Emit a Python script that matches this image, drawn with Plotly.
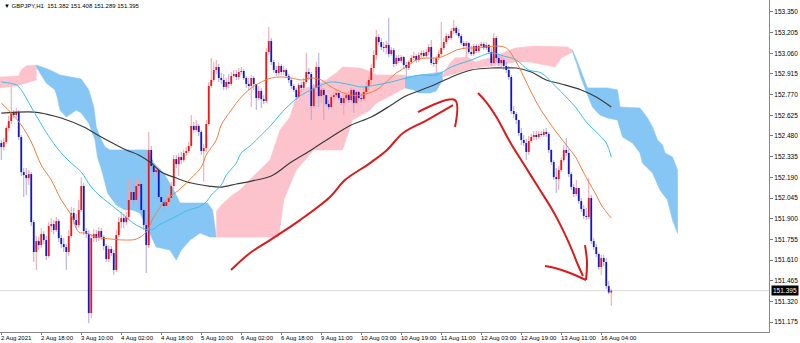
import plotly.graph_objects as go

# ---------------- data (GBPJPY H1) ----------------
first_open = 152.431
close = [
152.403, 152.438, 152.536, 152.585, 152.641, 152.627, 152.648, 152.473, 152.227, 152.206,
152.185, 152.213, 151.876, 151.666, 151.743, 151.715, 151.792, 151.750, 151.638, 151.848,
151.862, 151.820, 151.883, 151.764, 151.722, 151.701, 151.666, 151.778, 151.940, 151.890,
151.855, 151.961, 152.129, 151.813, 151.792, 151.238, 151.764, 151.792, 151.764, 151.813,
151.771, 151.708, 151.617, 151.687, 151.659, 151.540, 151.785, 151.876, 151.904, 151.876,
151.912, 152.031, 152.087, 152.031, 152.129, 152.143, 151.961, 151.855, 151.715, 152.382,
152.269, 152.227, 152.241, 152.052, 152.017, 151.989, 152.017, 152.045, 152.129, 152.318,
152.283, 152.332, 152.311, 152.361, 152.375, 152.410, 152.550, 152.522, 152.550, 152.508,
152.375, 152.396, 152.564, 152.831, 152.873, 152.943, 152.964, 152.887, 152.873, 152.824,
152.859, 152.845, 152.901, 152.915, 152.894, 152.929, 152.936, 152.887, 152.845, 152.831,
152.887, 152.845, 152.746, 152.796, 152.739, 152.725, 153.069, 153.146, 152.999, 152.943,
152.922, 152.971, 152.929, 152.943, 152.901, 152.873, 152.831, 152.803, 152.753, 152.838,
152.817, 152.859, 152.929, 152.915, 152.690, 152.817, 152.964, 152.760, 152.803, 152.767,
152.704, 152.683, 152.753, 152.767, 152.782, 152.746, 152.711, 152.746, 152.767, 152.732,
152.803, 152.711, 152.789, 152.746, 152.739, 152.789, 152.831, 152.873, 152.957, 153.048,
153.174, 153.139, 153.104, 153.097, 153.118, 153.055, 153.083, 152.985, 153.027, 153.006,
153.034, 152.978, 152.957, 152.999, 153.027, 153.041, 153.013, 153.048, 153.062, 153.041,
153.069, 153.104, 152.992, 152.985, 153.027, 153.055, 153.097, 153.139, 153.181, 153.167,
153.217, 153.238, 153.202, 153.181, 153.132, 153.111, 153.132, 153.069, 153.055, 153.111,
153.076, 153.111, 153.125, 153.097, 153.118, 153.069, 152.992, 153.167, 153.027, 152.992,
153.013, 152.971, 152.943, 152.894, 152.655, 152.634, 152.592, 152.501, 152.452, 152.431,
152.368, 152.445, 152.473, 152.487, 152.473, 152.494, 152.487, 152.508, 152.494, 152.382,
152.297, 152.192, 152.178, 152.241, 152.311, 152.382, 152.361, 152.213, 152.122, 152.073,
152.115, 152.024, 151.968, 151.919, 151.912, 152.045, 151.743, 151.701, 151.652, 151.561,
151.624, 151.596, 151.427, 151.382, 151.395]
high = [
152.452, 152.466, 152.550, 152.620, 152.824, 152.662, 152.676, 152.662, 152.487, 152.255,
152.255, 152.241, 152.227, 151.890, 151.778, 151.771, 151.834, 151.813, 151.778, 151.876,
151.904, 151.890, 151.912, 151.897, 151.785, 151.764, 151.722, 151.820, 151.982, 151.975,
151.933, 152.031, 152.192, 152.150, 151.834, 151.820, 151.792, 151.827, 151.820, 151.841,
151.834, 151.785, 151.722, 151.715, 151.708, 151.680, 151.820, 151.912, 151.947, 151.933,
151.947, 152.171, 152.185, 152.150, 152.185, 152.171, 152.157, 151.975, 151.876, 152.508,
152.410, 152.290, 152.269, 152.255, 152.066, 152.031, 152.045, 152.073, 152.157, 152.347,
152.347, 152.361, 152.368, 152.382, 152.403, 152.438, 152.627, 152.578, 152.592, 152.564,
152.522, 152.424, 152.592, 152.859, 153.027, 152.999, 153.013, 152.985, 152.922, 152.915,
152.887, 152.915, 152.929, 152.943, 152.943, 152.957, 152.964, 152.950, 152.901, 152.887,
152.908, 152.901, 152.845, 152.831, 152.817, 152.767, 153.097, 153.245, 153.167, 153.013,
152.971, 152.999, 152.985, 152.971, 152.957, 152.915, 152.887, 152.845, 152.817, 152.852,
152.859, 152.887, 153.062, 152.957, 152.929, 152.845, 152.999, 153.062, 152.831, 152.817,
152.760, 152.732, 152.767, 152.789, 152.810, 152.789, 152.760, 152.774, 152.789, 152.796,
152.817, 152.810, 152.803, 152.796, 152.782, 152.817, 152.859, 152.901, 152.985, 153.083,
153.224, 153.195, 153.167, 153.139, 153.146, 153.308, 153.104, 153.097, 153.048, 153.048,
153.048, 153.041, 152.999, 153.013, 153.048, 153.069, 153.055, 153.069, 153.083, 153.083,
153.090, 153.125, 153.153, 153.027, 153.041, 153.083, 153.280, 153.167, 153.202, 153.195,
153.238, 153.294, 153.252, 153.231, 153.195, 153.146, 153.146, 153.139, 153.111, 153.125,
153.125, 153.125, 153.139, 153.139, 153.139, 153.125, 153.097, 153.202, 153.181, 153.055,
153.041, 153.027, 152.999, 152.971, 152.908, 152.690, 152.648, 152.592, 152.536, 152.487,
152.459, 152.480, 152.494, 152.515, 152.515, 152.515, 152.515, 152.529, 152.536, 152.508,
152.389, 152.311, 152.255, 152.269, 152.332, 152.417, 152.466, 152.389, 152.227, 152.143,
152.171, 152.115, 152.045, 151.996, 151.975, 152.185, 152.066, 151.764, 151.722, 151.659,
151.645, 151.645, 151.624, 151.463, 151.408]
low = [
152.311, 152.382, 152.424, 152.515, 152.564, 152.606, 152.606, 152.452, 152.199, 152.052,
152.066, 152.136, 151.848, 151.596, 151.540, 151.680, 151.694, 151.722, 151.610, 151.624,
151.806, 151.792, 151.806, 151.736, 151.694, 151.666, 151.540, 151.638, 151.764, 151.862,
151.834, 151.834, 151.947, 151.785, 151.764, 151.168, 151.203, 151.736, 151.736, 151.743,
151.750, 151.680, 151.596, 151.596, 151.638, 151.505, 151.526, 151.771, 151.834, 151.834,
151.855, 151.890, 151.996, 151.996, 152.003, 152.066, 151.933, 151.820, 151.519, 151.694,
152.241, 152.199, 152.185, 152.031, 151.989, 151.961, 151.975, 151.996, 152.031, 152.108,
152.255, 152.199, 152.283, 152.297, 152.340, 152.361, 152.396, 152.501, 152.508, 152.480,
152.347, 152.157, 152.368, 152.550, 152.817, 152.859, 152.915, 152.859, 152.845, 152.803,
152.803, 152.817, 152.831, 152.887, 152.873, 152.873, 152.908, 152.873, 152.817, 152.803,
152.683, 152.803, 152.662, 152.732, 152.676, 152.704, 152.711, 153.048, 152.978, 152.922,
152.901, 152.901, 152.908, 152.908, 152.887, 152.852, 152.810, 152.789, 152.732, 152.746,
152.789, 152.803, 152.845, 152.873, 152.592, 152.676, 152.803, 152.683, 152.711, 152.592,
152.690, 152.662, 152.676, 152.732, 152.753, 152.732, 152.697, 152.627, 152.718, 152.711,
152.718, 152.641, 152.704, 152.725, 152.718, 152.725, 152.767, 152.803, 152.845, 152.929,
153.013, 153.118, 153.083, 153.069, 153.055, 153.034, 153.041, 152.964, 152.971, 152.992,
152.992, 152.957, 152.873, 152.943, 152.985, 153.013, 152.992, 152.999, 153.027, 153.027,
153.027, 153.048, 152.978, 152.964, 152.922, 153.013, 153.041, 153.083, 153.125, 153.153,
153.153, 153.195, 153.188, 153.167, 153.118, 153.097, 153.027, 153.055, 153.041, 153.041,
153.062, 153.062, 153.097, 153.083, 153.083, 153.055, 152.971, 152.985, 152.999, 152.971,
152.957, 152.943, 152.922, 152.873, 152.634, 152.606, 152.564, 152.480, 152.417, 152.410,
152.311, 152.347, 152.431, 152.452, 152.452, 152.459, 152.473, 152.473, 152.473, 152.361,
152.276, 152.171, 152.080, 152.101, 152.227, 152.297, 152.340, 152.192, 152.101, 152.052,
152.059, 152.003, 151.947, 151.897, 151.890, 151.897, 151.722, 151.680, 151.631, 151.540,
151.505, 151.568, 151.406, 151.371, 151.289]

# moving averages (sampled bar index, value)
orange_x = [0,4,8,12,16,20,24,28,31,34,38,44,50,54,58,61,66,71,76,80,82,86,88,92,96,100,104,108,112,116,120,124,
            128,132,136,140,144,150,154,158,162,166,170,174,178,182,186,190,194,198,202,206,210,214,218,222,226,230,232,235,238,240,244]
orange = [152.711,152.641,152.557,152.438,152.276,152.171,152.031,151.926,151.806,151.799,151.771,151.757,151.750,151.757,151.806,151.912,
          152.031,152.101,152.185,152.262,152.347,152.452,152.557,152.662,152.753,152.817,152.859,152.887,152.894,152.887,152.873,152.887,
          152.873,152.824,152.789,152.767,152.767,152.803,152.859,152.922,152.964,153.013,153.027,153.027,153.048,153.083,153.097,153.097,
          153.104,153.111,153.097,152.999,152.859,152.718,152.606,152.508,152.417,152.325,152.255,152.157,152.066,151.996,151.904]
cyan_x = [0,6,8,12,15,20,24,28,32,36,40,44,48,54,60,63,67,71,75,79,82,84,88,90,94,96,100,104,108,112,116,120,
          124,128,132,136,140,144,150,156,162,168,174,180,188,196,201,206,211,216,222,226,230,234,238,242,244]
cyan = [152.859,152.838,152.803,152.683,152.592,152.452,152.361,152.290,152.227,152.122,152.052,151.996,151.940,151.855,151.820,151.855,
        151.890,151.926,151.961,151.982,152.017,152.066,152.136,152.206,152.290,152.361,152.417,152.487,152.557,152.641,152.711,152.767,
        152.803,152.838,152.859,152.852,152.838,152.824,152.838,152.859,152.887,152.908,152.908,152.964,153.013,153.062,153.041,153.013,
        152.943,152.922,152.824,152.753,152.676,152.578,152.508,152.431,152.332]
gray_x = [0,13,18,24,33,40,46,50,55,60,64,70,76,83,88,94,100,108,116,124,132,140,148,156,161,168,174,182,188,196,201,206,212,218,224,232,238,244]
gray = [152.641,152.648,152.634,152.606,152.543,152.473,152.417,152.382,152.347,152.290,152.227,152.185,152.150,152.129,152.122,152.143,
        152.164,152.199,152.297,152.382,152.473,152.557,152.613,152.697,152.753,152.803,152.845,152.908,152.943,152.957,152.957,152.957,
        152.929,152.873,152.845,152.803,152.753,152.683]

# Ichimoku cloud segments (upper / lower edges)
pink1_top_x = [-0.5, 7, 8, 10, 14]
pink1_top = [152.894, 152.901, 152.943, 152.971, 152.978]
pink1_bot_x = [-0.5, 6, 10, 14]
pink1_bot = [152.817, 152.831, 152.852, 152.873]

blue2_top_x = [14, 19.5, 23.5, 32, 35, 37, 38, 39.5, 41.5, 43.5, 58.5, 61, 65, 69, 71.5, 82.5, 84.5, 86]
blue2_top = [152.978, 152.943, 152.908, 152.880, 152.803, 152.683, 152.543, 152.473, 152.403, 152.382, 152.382, 152.290, 152.220,
             152.101, 152.010, 152.010, 151.961, 151.771]
blue2_bot_x = [14, 18, 21.5, 22.5, 23.5, 26, 30, 32, 35, 37.5, 38.5, 40.5, 42.5, 46, 49.5, 52.5, 55.5, 58, 60, 62, 67.5, 70, 72,
               75.5, 79.5, 83.5, 86]
blue2_bot = [152.964, 152.852, 152.803, 152.746, 152.662, 152.613, 152.662, 152.641, 152.571, 152.452, 152.332, 152.220, 152.080,
             151.996, 151.961, 151.961, 151.940, 151.841, 151.771, 151.701, 151.680, 151.610, 151.680, 151.750, 151.799, 151.771, 151.771]

pink3_top_x = [86, 88, 92.5, 95.5, 100.5, 104, 107.5, 111.5, 115.5, 118, 119.5, 123.5, 130, 134, 136.5, 143.5, 148, 150, 161.5]
pink3_top = [151.947, 151.996, 152.066, 152.101, 152.192, 152.255, 152.311, 152.522, 152.613, 152.753, 152.803, 152.824, 152.873,
             152.922, 152.964, 152.957, 152.929, 152.908, 152.908]
pink3_bot_x = [86, 111, 113, 118, 125, 136.5, 140.5, 147.5, 150, 161.5]
pink3_bot = [151.771, 151.771, 152.031, 152.241, 152.382, 152.382, 152.592, 152.662, 152.710, 152.817]

blue4_top_x = [161.5, 176.5]
blue4_top = [152.894, 152.929]
blue4_bot_x = [161.5, 165, 167, 171.5, 174, 176.5]
blue4_bot = [152.817, 152.803, 152.782, 152.782, 152.796, 152.873]

pink5_top_x = [176.5, 179.5, 181.5, 186.5, 189.5, 195.5, 199.5, 201.5, 205.5, 213.5, 226.5, 228.5]
pink5_top = [152.908, 152.992, 153.027, 153.034, 152.999, 153.027, 153.048, 153.069, 153.097, 153.111, 153.104, 153.083]
pink5_bot_x = [176.5, 183.5, 189.5, 199.5, 205.5, 211.5, 217.5, 221.5, 224, 228.5]
pink5_bot = [152.894, 152.929, 152.957, 152.978, 152.999, 152.999, 152.978, 152.964, 153.027, 153.069]

blue6_top_x = [228.5, 230.5, 234.5, 242.5, 246.5, 247.5, 255.5, 258.5, 260.5, 262.5, 264.5, 265.5, 268.5, 270.5]
blue6_top = [153.083, 152.999, 152.817, 152.817, 152.803, 152.683, 152.676, 152.606, 152.543, 152.452, 152.417, 152.361, 152.332, 152.241]
blue6_bot_x = [228.5, 230.5, 231.5, 234.5, 236.5, 239.5, 242.5, 246.5, 248.5, 252.5, 255.5, 256.5, 260.5, 263.5, 266.5, 268.5, 270.5]
blue6_bot = [153.069, 152.971, 152.908, 152.767, 152.683, 152.627, 152.606, 152.592, 152.473, 152.431, 152.361, 152.290, 152.220,
             152.101, 152.031, 151.890, 151.799]

# hand-drawn arrows
arrow1_x = [91.9, 99.5, 107.5, 119.5, 131.5, 137.5, 147.5, 154.3, 160.7, 170.3, 180.7]
arrow1_y = [151.540, 151.659, 151.750, 151.890, 152.052, 152.171, 152.290, 152.382, 152.501, 152.592, 152.697]
arrow1_head_x = [166.7, 181.5, 181.5]
arrow1_head_y = [152.648, 152.732, 152.543]
arrow2_x = [190.7, 194.3, 198.3, 203.5, 209.5, 215.5, 220.7, 224.7, 228.3, 230.7, 232.7]
arrow2_y = [152.782, 152.711, 152.606, 152.438, 152.269, 152.101, 151.954, 151.820, 151.680, 151.575, 151.498]
arrow2_hook_x = [217.5, 221.5, 227.5, 233.9]
arrow2_hook_y = [151.568, 151.554, 151.519, 151.470]
arrow2_vert_x = [233.5, 234.3, 233.9]
arrow2_vert_y = [151.715, 151.596, 151.470]

time_ticks = [0, 16, 32, 48, 64, 80, 96, 112, 128, 144, 160, 176, 192, 208, 224, 240]
time_labels = ["2 Aug 2021", "2 Aug 18:00", "3 Aug 10:00", "4 Aug 02:00", "4 Aug 18:00", "5 Aug 10:00",
               "6 Aug 02:00", "6 Aug 18:00", "9 Aug 11:00", "10 Aug 03:00", "10 Aug 19:00", "11 Aug 11:00",
               "12 Aug 03:00", "12 Aug 19:00", "13 Aug 11:00", "16 Aug 04:00"]
price_ticks = [153.350, 153.205, 153.060, 152.915, 152.770, 152.625, 152.480, 152.335, 152.190, 152.045,
               151.900, 151.755, 151.610, 151.465, 151.320, 151.175]
last_price = 151.395
header = "GBPJPY,H1  151.382 151.408 151.289 151.395"

# ---------------- figure ----------------
PINK = "#fdc3cc"
BLUE = "#86c6f4"
fig = go.Figure()

def cloud(tx, ty, bx, by, color):
    fig.add_trace(go.Scatter(x=tx + bx[::-1], y=ty + by[::-1], mode="lines", fill="toself",
                             fillcolor=color, line=dict(width=0.6, color=color), hoverinfo="skip"))

cloud(pink1_top_x, pink1_top, pink1_bot_x, pink1_bot, PINK)
cloud(blue2_top_x, blue2_top, blue2_bot_x, blue2_bot, BLUE)
cloud(pink3_top_x, pink3_top, pink3_bot_x, pink3_bot, PINK)
cloud(blue4_top_x, blue4_top, blue4_bot_x, blue4_bot, BLUE)
cloud(pink5_top_x, pink5_top, pink5_bot_x, pink5_bot, PINK)
cloud(blue6_top_x, blue6_top, blue6_bot_x, blue6_bot, BLUE)

# bid line
fig.add_trace(go.Scatter(x=[-0.5, 400], y=[last_price, last_price], mode="lines",
                         line=dict(color="#dadada", width=1), hoverinfo="skip"))

open_ = [first_open] + close[:-1]
wx_up, wy_up, wx_dn, wy_dn = [], [], [], []
bx_up, by_up, bx_dn, by_dn = [], [], [], []
for i, (o, h, l, c) in enumerate(zip(open_, high, low, close)):
    lo_b, hi_b = min(o, c), max(o, c)
    if hi_b - lo_b < 0.003:
        hi_b = lo_b + 0.003
    if c >= o:
        wx_up += [i, i, None]; wy_up += [l, h, None]
        bx_up += [i, i, None]; by_up += [lo_b, hi_b, None]
    else:
        wx_dn += [i, i, None]; wy_dn += [l, h, None]
        bx_dn += [i, i, None]; by_dn += [lo_b, hi_b, None]

fig.add_trace(go.Scatter(x=wx_up, y=wy_up, mode="lines", line=dict(color="#f2a0a8", width=1), hoverinfo="skip"))
fig.add_trace(go.Scatter(x=wx_dn, y=wy_dn, mode="lines", line=dict(color="#a8a8e6", width=1), hoverinfo="skip"))
fig.add_trace(go.Scatter(x=bx_up, y=by_up, mode="lines", line=dict(color="#f01414", width=1.8), hoverinfo="skip"))
fig.add_trace(go.Scatter(x=bx_dn, y=by_dn, mode="lines", line=dict(color="#1414c8", width=1.8), hoverinfo="skip"))

fig.add_trace(go.Scatter(x=gray_x, y=gray, mode="lines", line=dict(color="#3a3a3a", width=1.2, shape="spline"), hoverinfo="skip"))
fig.add_trace(go.Scatter(x=cyan_x, y=cyan, mode="lines", line=dict(color="#38c0ec", width=1, shape="spline"), hoverinfo="skip"))
fig.add_trace(go.Scatter(x=orange_x, y=orange, mode="lines", line=dict(color="#f28040", width=1, shape="spline"), hoverinfo="skip"))

RED = "#d81c1c"
for ax, ay in [(arrow1_x, arrow1_y), (arrow1_head_x, arrow1_head_y), (arrow2_x, arrow2_y),
               (arrow2_hook_x, arrow2_hook_y), (arrow2_vert_x, arrow2_vert_y)]:
    fig.add_trace(go.Scatter(x=ax, y=ay, mode="lines", line=dict(color=RED, width=2, shape="spline"), hoverinfo="skip"))

FONT = "Liberation Sans"
annotations = []
for b, t in zip(time_ticks, time_labels):
    annotations.append(dict(x=b, y=0, xref="x", yref="paper", text=t, showarrow=False,
                            xanchor="left", yanchor="top", xshift=-2, yshift=-1,
                            font=dict(family=FONT, size=6, color="#000")))
annotations.append(dict(x=1, y=last_price, xref="paper", yref="y", text=f"{last_price:.3f}", showarrow=False,
                        xanchor="left", yanchor="middle", xshift=2, bgcolor="#000", borderpad=1,
                        font=dict(family=FONT, size=6.5, color="#fff")))
annotations.append(dict(x=0, y=1, xref="paper", yref="paper", text="\u25bc " + header, showarrow=False,
                        xanchor="left", yanchor="top", xshift=2, yshift=-1,
                        font=dict(family=FONT, size=6, color="#000")))

fig.update_layout(
    width=800, height=343,
    margin=dict(l=0, r=31, t=0, b=11),
    paper_bgcolor="white", plot_bgcolor="white",
    showlegend=False,
    annotations=annotations,
    xaxis=dict(range=[-0.5, 307.1], showgrid=False, zeroline=False, showticklabels=False,
               tickvals=time_ticks, ticks="outside", ticklen=2, tickcolor="#777",
               showline=True, linecolor="#888", linewidth=1, mirror=True),
    yaxis=dict(range=[151.105, 153.434], side="right", showgrid=False, zeroline=False,
               tickvals=price_ticks, ticktext=[f"{p:.3f}" for p in price_ticks],
               ticks="outside", ticklen=3, tickcolor="#777",
               tickfont=dict(family=FONT, size=6.5, color="#000"),
               showline=True, linecolor="#888", linewidth=1, mirror=True),
)

fig.write_html("out.html")
